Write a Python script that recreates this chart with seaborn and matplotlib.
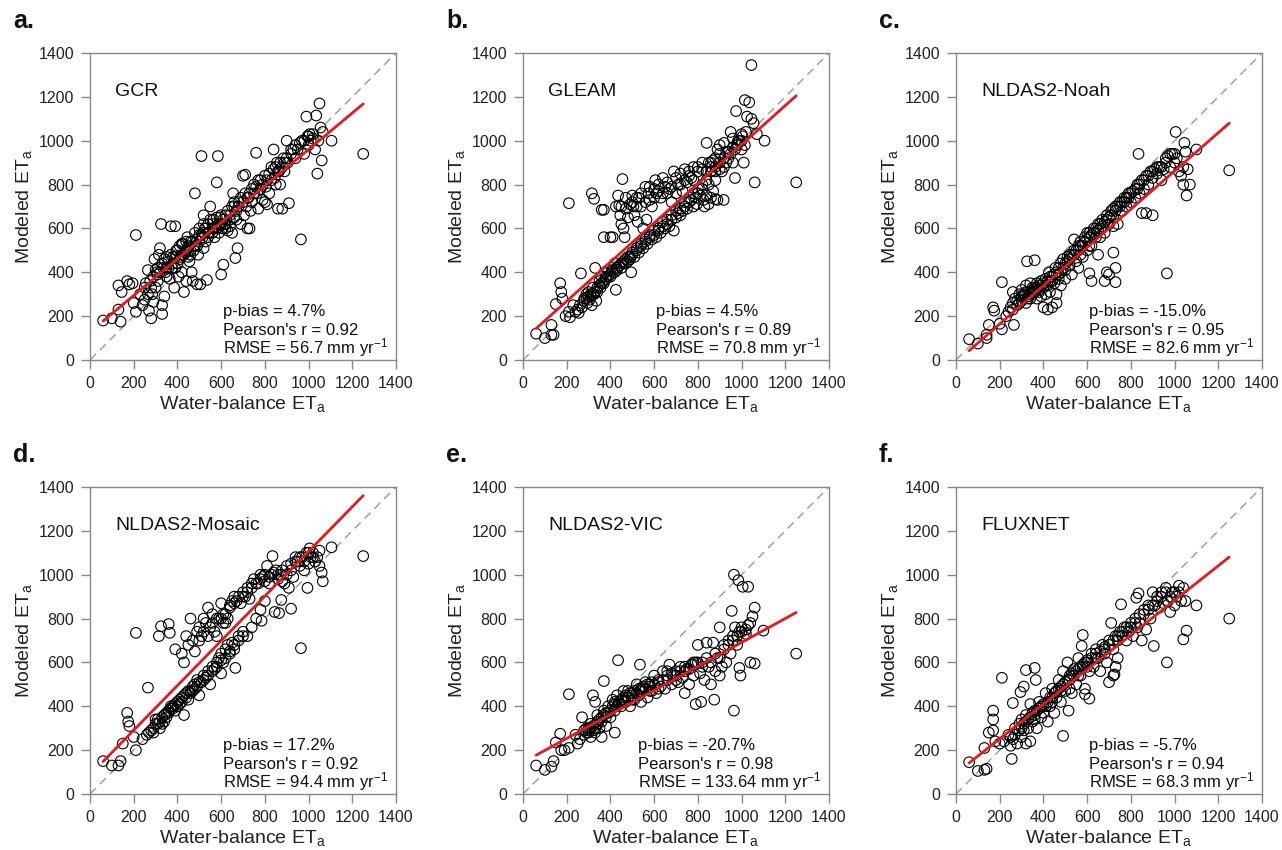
import matplotlib
matplotlib.use("Agg")
import matplotlib.pyplot as plt
import seaborn as sns
import numpy as np

# points (water-balance ET, modeled ET), mm/yr
gcr_pts = [(60,180),(100,190),(140,175),(130,230),(130,340),(145,310),(170,360),(180,345),(195,350),(210,570),
    (200,260),(210,220),(230,300),(240,250),(250,275),(255,350),(265,410),(270,225),(280,190),(285,300),
    (290,265),(295,460),(300,330),(305,400),(310,390),(315,480),(320,510),(325,620),(330,250),(330,210),
    (335,420),(340,290),(345,400),(350,380),(360,450),(365,370),(370,610),(375,420),(380,470),(385,330),
    (390,610),(395,500),(400,440),(405,380),(410,520),(415,470),(420,400),(425,530),(430,310),(435,490),
    (440,360),(445,560),(450,510),(455,450),(460,540),(465,400),(470,360),(475,500),(480,760),(485,550),
    (490,345),(495,480),(500,570),(505,345),(510,930),(515,560),(520,660),(525,600),(530,540),(535,365),
    (540,620),(545,580),(550,700),(560,600),(565,640),(570,560),(575,610),(580,810),(585,930),(590,580),
    (595,650),(600,390),(605,600),(610,435),(615,620),(620,660),(630,590),(640,640),(650,580),(655,760),
    (660,700),(665,465),(670,640),(675,510),(680,720),(690,620),(700,840),(705,660),(710,845),(715,700),
    (720,600),(725,740),(730,600),(735,680),(740,720),(750,800),(760,945),(765,760),(770,690),(780,820),
    (790,730),(800,720),(805,790),(810,710),(820,760),(830,880),(840,960),(845,830),(850,800),(855,900),
    (860,690),(865,860),(870,800),(880,690),(885,920),(890,860),(900,1000),(905,900),(910,715),(920,940),
    (930,960),(940,920),(950,960),(965,550),(970,1000),(980,940),(990,1110),(995,1020),(1000,980),(1005,1030),
    (1010,1000),(1020,1030),(1030,960),(1035,1115),(1040,850),(1045,1000),(1050,1170),(1055,1060),(1060,910),
    (1065,1040),(1105,1000),(1250,940),(420,480),(440,500),(460,480),(480,520),(500,540),(520,580),(540,560),
    (560,580),(580,600),(600,620),(620,600),(640,610),(660,650),(520,510),(450,470),(390,420),(350,420),
    (310,360),(280,330),
    (250,330),(265,300),(275,360),(290,380),(300,410),(310,420),(320,400),(330,440),(340,460),(350,470),
    (360,420),(370,480),(380,440),(390,470),(400,500),(410,460),(420,530),(430,480),(440,540),(450,520),
    (460,500),(470,540),(480,580),(490,520),(500,600),(510,570),(520,620),(530,600),(540,580),(550,640),
    (560,620),(570,600),(580,650),(590,620),(600,660),(610,640),(620,620),(630,680),(640,660),(650,700),
    (660,720),(670,680),(680,700),(690,740),(700,720),(710,760),(720,740),(730,760),(740,780),(750,760),
    (760,790),(770,820),(780,780),(790,800),(800,840),(810,820),(820,850),(830,820),(840,870),(850,880),
    (860,860),(870,900),(880,880),(890,900),(900,920),(920,960),(940,980),(960,990),(980,1000),(1000,1020),
    (1020,1010)]

gleam_pts = [(60,120),(100,100),(130,115),(140,115),(130,160),(150,255),(170,350),(175,310),(180,280),(195,200),
    (210,220),(215,195),(230,250),(240,220),(255,215),(265,395),(270,240),(280,280),(290,300),(295,260),
    (300,310),(305,275),(310,290),(315,250),(320,330),(325,300),(330,420),(335,270),(340,310),(350,360),
    (355,330),(360,380),(370,350),(375,400),(380,370),(390,410),(400,380),(405,420),(410,400),(420,440),
    (425,320),(430,410),(440,430),(450,420),(460,450),(470,440),(480,470),(490,460),(495,400),(500,480),
    (510,470),(520,500),(530,490),(540,520),(550,510),(560,540),(570,530),(580,560),(590,550),(600,570),
    (610,560),(620,590),(630,580),(640,610),(650,600),(660,620),(670,610),(680,640),(690,590),(700,650),
    (710,670),(720,660),(730,680),(740,700),(750,690),(760,720),(770,730),(780,700),(790,740),(800,760),
    (810,750),(820,780),(830,700),(840,750),(850,800),(860,740),(870,770),(880,820),(890,730),(900,870),
    (910,860),(920,880),(930,900),(940,920),(950,940),(960,900),(970,960),(980,980),(990,1000),(1000,960),
    (1005,1020),(1010,900),(1015,980),(1020,1040),(796,711),(826,730),(849,711),(880,733),(918,730),
    (210,715),(315,760),(325,735),(360,685),(370,685),(370,560),(400,560),(410,560),(425,700),(435,750),
    (440,705),(445,660),(450,620),(455,825),(460,600),(465,560),(470,690),(480,650),(490,710),(500,750),
    (505,700),(510,660),(520,740),(525,630),(530,740),(540,700),(550,600),(560,790),(565,640),(575,760),
    (580,730),(590,700),(600,780),(605,820),(610,760),(620,800),(630,740),(640,830),(650,790),(660,760),
    (670,780),(680,720),(690,860),(700,830),(710,800),(720,850),(730,770),(740,870),(750,810),(760,860),
    (770,830),(780,880),(800,860),(820,870),(840,990),(850,900),(860,880),(870,910),(880,860),(890,960),
    (900,940),(920,990),(930,950),(950,1040),(960,1010),(970,830),(975,1135),(985,1000),(1000,1030),
    (1015,1185),(1035,1175),(1025,1110),(1045,1345),(1045,1100),(1055,1080),(1060,810),(1070,1030),
    (1105,1000),(1250,810),
    (250,230),(260,250),(280,270),(290,280),(300,290),(310,300),(320,300),(330,310),(340,330),(350,340),
    (360,350),(370,360),(380,380),(390,380),(400,390),(410,410),(420,400),(430,420),(440,430),(450,440),
    (460,440),(470,460),(480,450),(490,470),(500,490),(520,510),(540,530),(560,550),(580,570),(600,590),
    (620,600),(640,630),(660,640),(680,660),(700,680),(720,690),(740,720),(760,740),(780,760),(800,780),
    (820,800),(840,820),(860,860),(880,880),(900,900),(920,920),(940,950),(960,970),(980,990),(1000,1000),
    (450,700),(470,740),(500,720),(520,700),(540,760),(560,720),(580,790),(600,740),(620,770),(640,760),
    (660,810),(680,790),(700,760),(720,800),(740,820),(760,840),(780,820),(800,880),(820,900),(840,860),
    (860,900),(880,920),(900,980)]

noah_pts = [(1100,960),(1250,865),(965,395),(835,940),(1005,1040),(1045,990),(1055,750),(1070,800),(1040,800),
    (1060,870),(1050,950),(210,355),(325,450),(360,455),(730,355),(720,490),(730,420),(680,360),(690,400),
    (700,390),(900,660),(850,670),(870,670),(60,95),(100,75),(140,100),(140,115),(150,160),(170,240),
    (175,225),(200,165),(210,140),(265,160),(260,310),(240,220),(230,200),(460,260),(400,240),(420,230),
    (440,240),(540,550),(620,360),(610,395),
    (250,240),(260,260),(270,280),(280,250),(290,300),(300,270),(300,320),(310,290),(320,260),(320,340),
    (330,310),(340,280),(340,350),(350,300),(360,330),(370,280),(370,350),(380,310),(390,290),(390,360),
    (400,330),(410,300),(410,370),(420,340),(425,400),(430,310),(440,380),(450,350),(455,420),(460,300),
    (470,390),(480,440),(480,340),(490,460),(500,410),(500,370),(510,470),(520,430),(530,390),(540,480),
    (550,450),(560,500),(560,420),(570,520),(580,470),(590,540),(600,500),(600,580),(610,560),(620,520),
    (630,600),(640,560),(650,620),(650,480),(660,600),(670,640),(680,580),(690,640),(700,620),(710,680),
    (720,650),(730,700),(740,620),(750,720),(760,680),(770,740),(780,700),(790,760),(800,720),(810,770),
    (820,740),(830,800),(840,760),(850,820),(860,780),(870,840),(880,800),(890,860),(900,830),(910,870),
    (920,850),(930,880),(940,820),(950,870),(960,900),(970,930),(980,880),(990,940),(1000,900),(1010,920),
    (1020,860),(1030,840),(1040,880),(330,290),(350,330),(380,340),(430,360),(470,420),(520,480),(570,480),
    (610,520),(660,560),(720,610),(780,740),(830,780),
    (260,230),(280,270),(290,260),(300,290),(310,300),(320,310),(330,280),(340,300),(350,320),(360,310),
    (370,330),(380,320),(390,340),(400,350),(410,340),(420,360),(430,380),(440,360),(450,390),(460,400),
    (470,370),(480,400),(490,420),(500,440),(510,450),(520,460),(530,480),(540,500),(550,500),(560,520),
    (570,540),(580,520),(590,560),(600,550),(610,580),(620,570),(630,580),(640,600),(650,590),(660,620),
    (670,610),(680,630),(690,660),(700,650),(710,660),(720,690),(730,680),(740,700),(750,700),(760,720),
    (770,720),(780,740),(790,740),(800,760),(820,780),(840,800),(860,820),(880,840),(900,860),(920,880),
    (940,880),(960,920),(980,940),(1000,940)]

mosaic_pts = [(1250,1085),(965,665),(1105,1125),(920,845),(210,735),(315,720),(325,765),(360,775),(365,735),
    (390,660),(265,485),(170,370),(175,330),(180,310),(60,150),(100,130),(130,130),(140,150),(150,230),
    (200,260),(210,200),(665,575),(600,550),(995,940),(1065,970),(1060,1010),(1050,1040),(865,825),
    (845,830),(875,885),(785,790),(835,1085),
    (240,250),(260,270),(280,290),(290,280),(300,340),(310,320),(320,300),(330,350),(340,330),(350,370),
    (360,380),(370,390),(380,400),(390,380),(400,420),(410,410),(420,440),(430,360),(440,460),(450,430),
    (460,470),(470,490),(480,480),(490,520),(500,450),(510,510),(520,540),(530,530),(540,560),(550,500),
    (560,580),(570,570),(580,600),(590,620),(600,640),(610,600),(620,660),(630,680),(640,650),(650,690),
    (660,660),(680,720),(700,740),(720,720),(740,760),(760,800),(780,840),(800,880),
    (420,640),(430,600),(440,720),(450,680),(460,800),(470,700),(480,650),(490,740),(500,760),(510,720),
    (520,800),(530,780),(540,850),(550,760),(560,820),(570,740),(580,720),(590,800),(600,870),(610,780),
    (620,820),(630,800),(640,850),(660,900),(670,880),(690,870),(700,920),(710,900),(720,940),(730,890),
    (740,960),(750,980),(770,960),(780,1000),(790,990),(800,970),(810,1040),(820,960),(830,1000),(850,1020),
    (860,980),(870,1000),(880,970),(890,960),(900,1000),(910,940),(920,1050),(930,990),(940,1080),(950,1060),
    (960,1040),(970,1080),(980,1020),(990,1100),(1000,1050),(1005,1120),(1010,1080),(1020,1100),(1030,1060),
    (1040,1080),(1050,1110),
    (270,280),(290,300),(300,320),(310,340),(320,330),(330,320),(340,360),(350,350),(360,370),(370,400),
    (380,390),(390,410),(400,400),(410,430),(420,420),(430,450),(440,440),(450,470),(460,460),(470,470),
    (480,500),(490,490),(500,510),(520,520),(540,540),(560,560),(580,580),(600,610),(620,620),(640,640),
    (660,680),(680,700),(700,720),
    (500,700),(520,740),(540,720),(560,780),(580,800),(600,800),(610,820),(620,780),(640,860),(650,880),
    (660,870),(680,900),(700,900),(720,920),(740,940),(760,960),(780,980),(800,1000),(820,990),(840,1010),
    (860,1000),(880,1020),(900,1040),(920,1020),(940,1060),(960,1080),(980,1060),(1000,1100),(1020,1080)]

vic_pts = [(1250,640),(965,1000),(985,975),(1005,945),(1030,945),(955,835),(1060,850),(1050,810),(1040,780),
    (900,760),(965,380),(995,540),(990,575),(1040,600),(1060,595),(790,410),(815,420),(875,430),(435,610),
    (535,590),(210,455),(370,515),(360,260),(420,280),(60,130),(100,110),(130,125),(140,150),(150,235),
    (170,275),(175,200),(190,200),(210,210),(240,270),(250,230),(1100,745),
    (260,250),(270,350),(280,270),(290,300),(300,280),(310,320),(310,260),(320,290),(320,450),(330,280),
    (330,420),(340,330),(350,300),(360,350),(370,380),(380,310),(390,400),(400,350),(410,430),(420,380),
    (430,450),(440,410),(450,400),(460,440),(470,420),(480,470),(490,400),(500,460),(510,430),(520,500),
    (530,450),(540,420),(550,480),(560,510),(570,440),(580,500),(590,470),(600,540),(610,460),(620,520),
    (630,490),(640,560),(650,480),(660,520),(670,590),(680,500),(690,540),(700,560),(710,510),(720,580),
    (730,530),(740,460),(750,570),(760,500),(770,590),(780,540),(790,600),(800,680),(810,550),(820,600),
    (830,520),(840,690),(850,580),(860,500),(870,690),(880,560),(890,620),(900,540),(910,580),(920,680),
    (930,600),(940,700),(950,640),(960,720),(970,760),(980,680),(990,740),(1000,760),(1010,720),(1020,750),
    (1030,770),(300,300),(340,360),(380,370),(420,420),(460,470),(500,430),(540,480),(580,470),(620,480),
    (660,560),(700,520),(740,560),(780,600),
    (280,290),(290,280),(300,290),(310,300),(320,310),(330,300),(340,320),(350,340),(360,330),(370,360),
    (380,350),(390,370),(400,380),(410,400),(420,410),(430,400),(440,420),(450,430),(460,420),(470,450),
    (480,440),(490,460),(500,450),(510,470),(520,460),(530,480),(540,470),(550,490),(560,480),(570,500),
    (580,490),(590,510),(600,500),(620,510),(640,520),(660,540),(680,550),(700,540),(720,560),(740,580),
    (760,570),(780,590),(800,600),(820,580),(840,620),(860,600),(880,640),(900,620),(920,660),(940,680),
    (960,700),(980,720),(1000,740),(1020,730)]

flux_pts = [(1250,800),(965,600),(1100,860),(1040,705),(1055,745),(755,865),(835,915),(825,895),(905,675),
    (210,530),(320,565),(360,575),(365,520),(260,415),(310,490),(295,465),(490,265),(515,380),(255,160),
    (60,145),(100,105),(130,110),(140,115),(130,210),(150,280),(170,290),(170,340),(170,380),(200,230),
    (180,240),(575,675),(580,725),(725,545),(720,540),(700,510),(740,620),(730,580),(610,435),(590,455),
    (220,240),(240,270),(250,220),(260,250),(270,300),(280,230),(290,320),(300,260),(300,340),(310,290),
    (320,230),(320,360),(330,300),(340,410),(340,240),(350,330),(360,380),(370,300),(380,420),(390,350),
    (400,400),(410,460),(420,330),(430,400),(440,480),(450,370),(460,440),(470,520),(480,420),(490,560),
    (500,470),(510,600),(520,520),(530,460),(540,570),(550,500),(560,620),(570,540),(580,590),(590,480),
    (600,600),(610,560),(620,640),(630,580),(640,660),(650,620),(660,560),(670,680),(680,640),(690,600),
    (700,700),(710,780),(720,660),(730,720),(740,700),(750,740),(760,720),(770,760),(780,700),(790,740),
    (800,760),(810,720),(820,800),(830,760),(840,780),(850,700),(860,820),(870,750),(880,840),(890,800),
    (900,920),(910,860),(920,880),(930,850),(940,920),(950,870),(960,940),(970,880),(980,830),(990,920),
    (1000,860),(1010,900),(1020,950),(1030,880),(1040,940),(1050,880),(360,340),(400,370),(440,420),
    (480,470),(520,480),(560,540),(600,580),(640,620),(680,660),
    (250,260),(270,270),(290,290),(300,300),(310,320),(320,330),(330,340),(340,350),(350,370),(360,360),
    (370,380),(380,390),(390,400),(400,410),(410,400),(420,420),(430,440),(440,440),(450,460),(460,470),
    (470,480),(480,490),(490,500),(500,510),(510,520),(520,540),(530,550),(540,540),(550,560),(560,570),
    (570,580),(580,580),(590,600),(600,610),(620,620),(640,640),(660,650),(680,670),(700,680),(720,700),
    (740,720),(760,740),(780,760),(800,780),(820,780),(840,820),(860,840),(880,860),(900,860),(920,900),
    (940,900),(960,920),(980,900),(1000,920),(1020,920)]

names = ["GCR", "GLEAM", "NLDAS2-Noah", "NLDAS2-Mosaic", "NLDAS2-VIC", "FLUXNET"]
letters = ["a.", "b.", "c.", "d.", "e.", "f."]
pbias = ["4.7%", "4.5%", "-15.0%", "17.2%", "-20.7%", "-5.7%"]
pearson = ["0.92", "0.89", "0.95", "0.92", "0.98", "0.94"]
rmse = ["56.7", "70.8", "82.6", "94.4", "133.64", "68.3"]
# red fitted lines
fit_slope = [0.832, 0.892, 0.872, 1.019, 0.547, 0.789]
fit_icpt = [128, 90, -10, 87, 144, 94]
all_pts = [gcr_pts, gleam_pts, noah_pts, mosaic_pts, vic_pts, flux_pts]

sns.set_theme(style="white")
plt.rcParams["font.family"] = ["Liberation Sans", "DejaVu Sans"]
plt.rcParams["mathtext.default"] = "regular"

W, H = 1282, 850
fig = plt.figure(figsize=(W / 100, H / 100), dpi=100)
col_left = [90, 523, 956]
row_top = [53, 487]
aw, ah = 306, 307

ticks = np.arange(0, 1401, 200)
renderer = fig.canvas.get_renderer()
for i, pts in enumerate(all_pts):
    r, c = divmod(i, 3)
    ax = fig.add_axes([col_left[c] / W, (H - row_top[r] - ah) / H, aw / W, ah / H])
    x = np.array([p[0] for p in pts], dtype=float)
    y = np.array([p[1] for p in pts], dtype=float)

    ax.plot([0, 1400], [0, 1400], ls=(0, (6, 4)), color="#999999", lw=1, zorder=1)
    sns.scatterplot(x=x, y=y, ax=ax, marker="o", s=58, facecolors="none",
                    edgecolor="black", linewidth=0.8, zorder=2)
    xs = np.array([x.min(), x.max()])
    sns.lineplot(x=xs, y=fit_icpt[i] + fit_slope[i] * xs, ax=ax, color="#e41a1c", lw=2, zorder=3)

    ax.set_xlim(0, 1400)
    ax.set_ylim(0, 1400)
    ax.set_xticks(ticks)
    ax.set_yticks(ticks)
    ax.tick_params(axis="both", which="major", direction="out", length=6.5, width=1,
                   color="#888888", labelsize=11.5, labelcolor="#222222", pad=5,
                   bottom=True, left=True)
    for s in ax.spines.values():
        s.set_color("#888888")
        s.set_linewidth(1)
    ax.set_xlabel("Water-balance ET$_a$", fontsize=14, color="#222222", labelpad=2)
    ax.set_ylabel("Modeled ET$_a$", fontsize=14, color="#222222", labelpad=3)

    ax.text(0.082, 0.875, names[i], transform=ax.transAxes, fontsize=14,
            ha="left", va="center", color="#111111")

    # stats block: right edge of the longest line fixes the common left edge
    t3 = ax.text(0.975, 0.023, f"RMSE = {rmse[i]} mm yr$^{{-1}}$", transform=ax.transAxes,
                 fontsize=12, ha="right", va="baseline", color="#111111")
    bb = t3.get_window_extent(renderer=renderer)
    x0 = ax.transAxes.inverted().transform((bb.x0, bb.y0))[0]
    ax.text(x0, 0.083, f"Pearson's r = {pearson[i]}", transform=ax.transAxes,
            fontsize=12, ha="left", va="baseline", color="#111111")
    ax.text(x0, 0.143, f"p-bias = {pbias[i]}", transform=ax.transAxes,
            fontsize=12, ha="left", va="baseline", color="#111111")

    fig.text((col_left[c] - 77) / W, 1 - (row_top[r] - 25) / H, letters[i],
             fontsize=18, fontweight="bold", ha="left", va="baseline", color="#111111")

fig.savefig("out.png", dpi=100)
